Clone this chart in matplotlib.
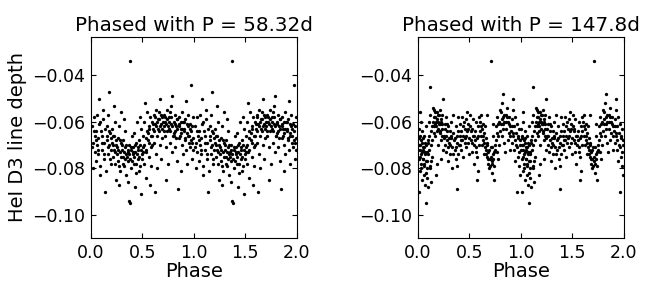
import matplotlib
matplotlib.use('Agg')
import matplotlib.pyplot as plt
import numpy as np

# phase (0-1) and HeI D3 depth (P = 58.32d)
phase_a = [0.01, 0.02, 0.03, 0.035, 0.04, 0.045, 0.02, 0.048,
           0.055, 0.06, 0.065, 0.07, 0.08, 0.085, 0.09, 0.095, 0.075,
           0.105, 0.11, 0.12, 0.125, 0.13, 0.14, 0.145, 0.115, 0.14,
           0.155, 0.16, 0.165, 0.17, 0.18, 0.185, 0.19, 0.195, 0.175,
           0.205, 0.21, 0.215, 0.22, 0.23, 0.235, 0.24, 0.245, 0.225,
           0.255, 0.26, 0.265, 0.27, 0.28, 0.285, 0.29, 0.295, 0.275,
           0.305, 0.31, 0.315, 0.32, 0.33, 0.335, 0.34, 0.345, 0.325,
           0.355, 0.36, 0.365, 0.37, 0.375, 0.38, 0.385, 0.39, 0.395, 0.36,
           0.405, 0.41, 0.415, 0.42, 0.43, 0.435, 0.44, 0.445, 0.425,
           0.455, 0.46, 0.465, 0.47, 0.48, 0.485, 0.49, 0.495, 0.475,
           0.505, 0.51, 0.515, 0.52, 0.53, 0.535, 0.54, 0.545, 0.525,
           0.555, 0.56, 0.565, 0.57, 0.58, 0.585, 0.59, 0.595, 0.575,
           0.605, 0.61, 0.615, 0.62, 0.63, 0.635, 0.64, 0.645, 0.625,
           0.655, 0.66, 0.665, 0.67, 0.68, 0.685, 0.69, 0.695, 0.675,
           0.705, 0.71, 0.715, 0.72, 0.73, 0.735, 0.74, 0.745, 0.725,
           0.755, 0.76, 0.765, 0.77, 0.78, 0.785, 0.79, 0.795, 0.775,
           0.805, 0.81, 0.815, 0.82, 0.83, 0.835, 0.84, 0.845, 0.825,
           0.855, 0.86, 0.865, 0.87, 0.88, 0.885, 0.89, 0.895, 0.875,
           0.905, 0.91, 0.915, 0.92, 0.93, 0.935, 0.94, 0.945, 0.925,
           0.955, 0.96, 0.965, 0.97, 0.975, 0.98, 0.985, 0.99, 0.995,
           0.012, 0.033, 0.047, 0.068, 0.092, 0.107, 0.128, 0.152, 0.163, 0.177,
           0.184, 0.197, 0.203, 0.214, 0.226, 0.233, 0.242, 0.251, 0.263, 0.272,
           0.283, 0.291, 0.302, 0.312, 0.318, 0.328, 0.342, 0.351, 0.358, 0.367,
           0.383, 0.392, 0.401, 0.412, 0.418, 0.432, 0.438, 0.452, 0.458, 0.468,
           0.478, 0.488, 0.497, 0.508, 0.518, 0.532, 0.538, 0.552, 0.562, 0.568,
           0.582, 0.592, 0.602, 0.612, 0.618, 0.628, 0.642, 0.648, 0.658, 0.668,
           0.682, 0.688, 0.702, 0.708, 0.718, 0.732, 0.738, 0.752, 0.758, 0.768,
           0.782, 0.788, 0.802, 0.812, 0.818, 0.832, 0.838, 0.852, 0.858, 0.872,
           0.878, 0.888, 0.902, 0.908, 0.918, 0.932, 0.938, 0.952, 0.958, 0.968,
           0.978, 0.988]
depth_a = [-0.062, -0.069, -0.058, -0.073, -0.066, -0.077, -0.080, -0.064,
           -0.070, -0.057, -0.074, -0.067, -0.061, -0.079, -0.083, -0.064, -0.050,
           -0.072, -0.066, -0.059, -0.076, -0.069, -0.063, -0.081, -0.055, -0.090,
           -0.068, -0.062, -0.074, -0.057, -0.070, -0.065, -0.078, -0.072, -0.047,
           -0.063, -0.070, -0.075, -0.066, -0.060, -0.073, -0.085, -0.068, -0.053,
           -0.071, -0.067, -0.077, -0.062, -0.073, -0.081, -0.069, -0.056, -0.087,
           -0.072, -0.075, -0.068, -0.079, -0.071, -0.064, -0.083, -0.074, -0.059,
           -0.073, -0.077, -0.070, -0.094, -0.034, -0.095, -0.072, -0.080, -0.066, -0.086,
           -0.074, -0.071, -0.078, -0.065, -0.073, -0.082, -0.069, -0.060, -0.088,
           -0.072, -0.076, -0.068, -0.081, -0.070, -0.091, -0.063, -0.074, -0.058,
           -0.071, -0.066, -0.078, -0.060, -0.073, -0.084, -0.064, -0.056, -0.052,
           -0.068, -0.062, -0.075, -0.058, -0.066, -0.079, -0.060, -0.070, -0.087,
           -0.063, -0.057, -0.069, -0.061, -0.074, -0.055, -0.066, -0.080, -0.090,
           -0.059, -0.064, -0.056, -0.070, -0.061, -0.076, -0.058, -0.067, -0.050,
           -0.062, -0.057, -0.066, -0.060, -0.071, -0.055, -0.064, -0.078, -0.085,
           -0.058, -0.063, -0.056, -0.069, -0.061, -0.073, -0.049, -0.066, -0.053,
           -0.060, -0.065, -0.057, -0.071, -0.062, -0.077, -0.059, -0.089, -0.067,
           -0.061, -0.058, -0.066, -0.063, -0.070, -0.056, -0.074, -0.060, -0.081,
           -0.063, -0.068, -0.059, -0.072, -0.065, -0.078, -0.057, -0.062, -0.051,
           -0.066, -0.061, -0.071, -0.064, -0.044, -0.069, -0.076, -0.058, -0.067,
           -0.071, -0.064, -0.068, -0.072, -0.060, -0.069, -0.074, -0.066, -0.071, -0.064,
           -0.076, -0.067, -0.069, -0.066, -0.072, -0.078, -0.070, -0.074, -0.072, -0.079,
           -0.068, -0.075, -0.070, -0.078, -0.073, -0.076, -0.070, -0.075, -0.072, -0.074,
           -0.076, -0.071, -0.077, -0.073, -0.075, -0.070, -0.078, -0.074, -0.071, -0.075,
           -0.079, -0.072, -0.076, -0.073, -0.070, -0.067, -0.072, -0.065, -0.069, -0.063,
           -0.071, -0.066, -0.061, -0.064, -0.058, -0.062, -0.060, -0.063, -0.059, -0.062,
           -0.057, -0.063, -0.060, -0.064, -0.058, -0.061, -0.059, -0.062, -0.060, -0.064,
           -0.058, -0.062, -0.066, -0.061, -0.064, -0.059, -0.063, -0.067, -0.062, -0.060,
           -0.065, -0.063, -0.060, -0.064, -0.067, -0.061, -0.066, -0.069, -0.063, -0.068,
           -0.062, -0.072]

# same for the right panel (P = 147.8d)
phase_b = [0.005, 0.01, 0.012, 0.015, 0.018, 0.02, 0.025, 0.028, 0.03, 0.033,
           0.036, 0.04, 0.043, 0.046, 0.048, 0.008, 0.022,
           0.052, 0.055, 0.058, 0.062, 0.065, 0.068, 0.072, 0.075, 0.078, 0.082,
           0.085, 0.088, 0.092, 0.095, 0.098,
           0.105, 0.11, 0.115, 0.12, 0.125, 0.13, 0.135, 0.14, 0.145, 0.118,
           0.155, 0.16, 0.165, 0.17, 0.175, 0.18, 0.185, 0.19, 0.195, 0.172, 0.188,
           0.205, 0.21, 0.215, 0.22, 0.225, 0.23, 0.235, 0.24, 0.245, 0.228,
           0.255, 0.26, 0.265, 0.27, 0.275, 0.28, 0.285, 0.29, 0.295,
           0.305, 0.31, 0.315, 0.32, 0.325, 0.33, 0.335, 0.34, 0.345,
           0.355, 0.36, 0.365, 0.37, 0.375, 0.38, 0.385, 0.39, 0.395, 0.382,
           0.405, 0.41, 0.415, 0.42, 0.425, 0.43, 0.435, 0.44, 0.445,
           0.455, 0.46, 0.465, 0.47, 0.475, 0.48, 0.485, 0.49, 0.495,
           0.505, 0.51, 0.515, 0.52, 0.525, 0.53, 0.535, 0.54, 0.545,
           0.555, 0.56, 0.565, 0.57, 0.575, 0.58, 0.585, 0.59, 0.595, 0.572,
           0.605, 0.61, 0.615, 0.62, 0.625, 0.63, 0.635, 0.64, 0.645,
           0.655, 0.66, 0.665, 0.67, 0.675, 0.68, 0.685, 0.69, 0.695, 0.67,
           0.705, 0.71, 0.715, 0.72, 0.725, 0.73, 0.735, 0.74, 0.745, 0.728,
           0.755, 0.76, 0.765, 0.77, 0.775, 0.78, 0.785, 0.79, 0.795,
           0.805, 0.81, 0.815, 0.82, 0.825, 0.83, 0.835, 0.84, 0.845, 0.828,
           0.855, 0.86, 0.865, 0.87, 0.875, 0.88, 0.885, 0.89, 0.895,
           0.905, 0.91, 0.915, 0.92, 0.925, 0.93, 0.935, 0.94, 0.945, 0.928,
           0.955, 0.96, 0.965, 0.97, 0.975, 0.98, 0.985, 0.99, 0.995, 0.962,
           0.003, 0.011, 0.017, 0.024, 0.031, 0.038, 0.044, 0.051, 0.057, 0.063,
           0.069, 0.074, 0.081, 0.087, 0.093, 0.099, 0.107, 0.113, 0.122, 0.128,
           0.138, 0.148, 0.153, 0.158, 0.163, 0.168, 0.178, 0.183, 0.192, 0.198,
           0.203, 0.212, 0.218, 0.223, 0.232, 0.238, 0.248, 0.258, 0.268, 0.278,
           0.288, 0.298, 0.312, 0.322, 0.338, 0.352, 0.368, 0.378, 0.392, 0.408,
           0.422, 0.438, 0.452, 0.468, 0.482, 0.498, 0.512, 0.528, 0.542, 0.558,
           0.568, 0.582, 0.598, 0.612, 0.628, 0.642, 0.652, 0.662, 0.672, 0.678,
           0.688, 0.698, 0.708, 0.718, 0.722, 0.732, 0.742, 0.752, 0.768, 0.782,
           0.798, 0.812, 0.822, 0.838, 0.852, 0.868, 0.882, 0.898, 0.912, 0.922,
           0.938, 0.952, 0.968, 0.978, 0.992]
depth_b = [-0.063, -0.070, -0.076, -0.066, -0.081, -0.072, -0.060, -0.068, -0.078, -0.074,
           -0.085, -0.069, -0.064, -0.076, -0.072, -0.090, -0.056,
           -0.071, -0.079, -0.066, -0.083, -0.074, -0.069, -0.087, -0.077, -0.062, -0.095,
           -0.080, -0.073, -0.084, -0.068, -0.088,
           -0.060, -0.072, -0.057, -0.079, -0.064, -0.086, -0.062, -0.075, -0.054, -0.045,
           -0.058, -0.062, -0.056, -0.066, -0.060, -0.064, -0.059, -0.070, -0.057, -0.083, -0.078,
           -0.061, -0.055, -0.065, -0.059, -0.068, -0.063, -0.057, -0.072, -0.050, -0.076,
           -0.066, -0.061, -0.070, -0.058, -0.073, -0.064, -0.068, -0.077, -0.062,
           -0.069, -0.064, -0.074, -0.060, -0.067, -0.080, -0.071, -0.057, -0.065,
           -0.072, -0.067, -0.062, -0.076, -0.069, -0.079, -0.064, -0.058, -0.070, -0.089,
           -0.066, -0.061, -0.072, -0.064, -0.058, -0.068, -0.062, -0.075, -0.060,
           -0.063, -0.067, -0.059, -0.071, -0.064, -0.056, -0.069, -0.061, -0.074,
           -0.062, -0.057, -0.068, -0.063, -0.073, -0.059, -0.066, -0.078, -0.070,
           -0.064, -0.071, -0.060, -0.075, -0.067, -0.081, -0.062, -0.070, -0.058, -0.085,
           -0.060, -0.066, -0.057, -0.063, -0.070, -0.061, -0.068, -0.074, -0.065,
           -0.062, -0.067, -0.072, -0.075, -0.069, -0.078, -0.073, -0.080, -0.076, -0.057,
           -0.071, -0.034, -0.077, -0.082, -0.074, -0.066, -0.079, -0.085, -0.070, -0.061,
           -0.068, -0.062, -0.073, -0.058, -0.066, -0.076, -0.060, -0.070, -0.055,
           -0.061, -0.056, -0.066, -0.052, -0.063, -0.058, -0.069, -0.060, -0.073, -0.048,
           -0.057, -0.063, -0.054, -0.068, -0.060, -0.065, -0.058, -0.072, -0.062,
           -0.064, -0.059, -0.069, -0.055, -0.066, -0.062, -0.072, -0.058, -0.077, -0.050,
           -0.065, -0.071, -0.061, -0.075, -0.067, -0.079, -0.063, -0.070, -0.083, -0.090,
           -0.072, -0.067, -0.075, -0.070, -0.080, -0.073, -0.067, -0.076, -0.071, -0.078,
           -0.073, -0.082, -0.070, -0.077, -0.074, -0.069, -0.066, -0.080, -0.070, -0.077,
           -0.068, -0.060, -0.065, -0.055, -0.061, -0.058, -0.062, -0.056, -0.060, -0.063,
           -0.057, -0.061, -0.064, -0.060, -0.066, -0.061, -0.067, -0.063, -0.066, -0.061,
           -0.071, -0.067, -0.070, -0.066, -0.074, -0.068, -0.071, -0.066, -0.074, -0.070,
           -0.068, -0.066, -0.069, -0.066, -0.063, -0.067, -0.064, -0.069, -0.066, -0.068,
           -0.073, -0.066, -0.064, -0.062, -0.066, -0.069, -0.071, -0.074, -0.070, -0.076,
           -0.072, -0.079, -0.075, -0.071, -0.078, -0.076, -0.073, -0.072, -0.065, -0.061,
           -0.064, -0.059, -0.061, -0.057, -0.060, -0.058, -0.061, -0.066, -0.062, -0.065,
           -0.068, -0.070, -0.066, -0.073, -0.068]

titles = ['Phased with P = 58.32d', 'Phased with P = 147.8d']
xticks = [0.0, 0.5, 1.0, 1.5, 2.0]
yticks = [-0.04, -0.06, -0.08, -0.10]

plt.rcParams['font.family'] = 'DejaVu Sans'

fig = plt.figure(figsize=(6.64, 2.82), dpi=100)
ax1 = fig.add_axes([0.137, 0.156, 0.310, 0.713])
ax2 = fig.add_axes([0.6295, 0.156, 0.310, 0.713])

for ax, ph, dp, title in [(ax1, phase_a, depth_a, titles[0]),
                          (ax2, phase_b, depth_b, titles[1])]:
    ph = np.array(ph)
    dp = np.array(dp)
    # each observation shown twice, over two cycles
    ax.plot(np.concatenate([ph, ph + 1]), np.concatenate([dp, dp]),
            'o', color='k', ms=2.4, mew=0, ls='none')
    ax.set_xlim(0, 2)
    ax.set_ylim(-0.11, -0.0235)
    ax.set_xticks(xticks)
    ax.set_yticks(yticks)
    ax.set_yticklabels(['\u22120.04', '\u22120.06', '\u22120.08', '\u22120.10'])
    ax.tick_params(direction='in', top=True, right=True, length=3.5, width=0.8,
                   labelsize=12.5, pad=4)
    ax.set_title(title, fontsize=14.3, pad=4)
    ax.set_xlabel('Phase', fontsize=14, labelpad=0)

ax1.set_ylabel('HeI D3 line depth', fontsize=14, labelpad=4)

fig.savefig('out.png', dpi=100)
